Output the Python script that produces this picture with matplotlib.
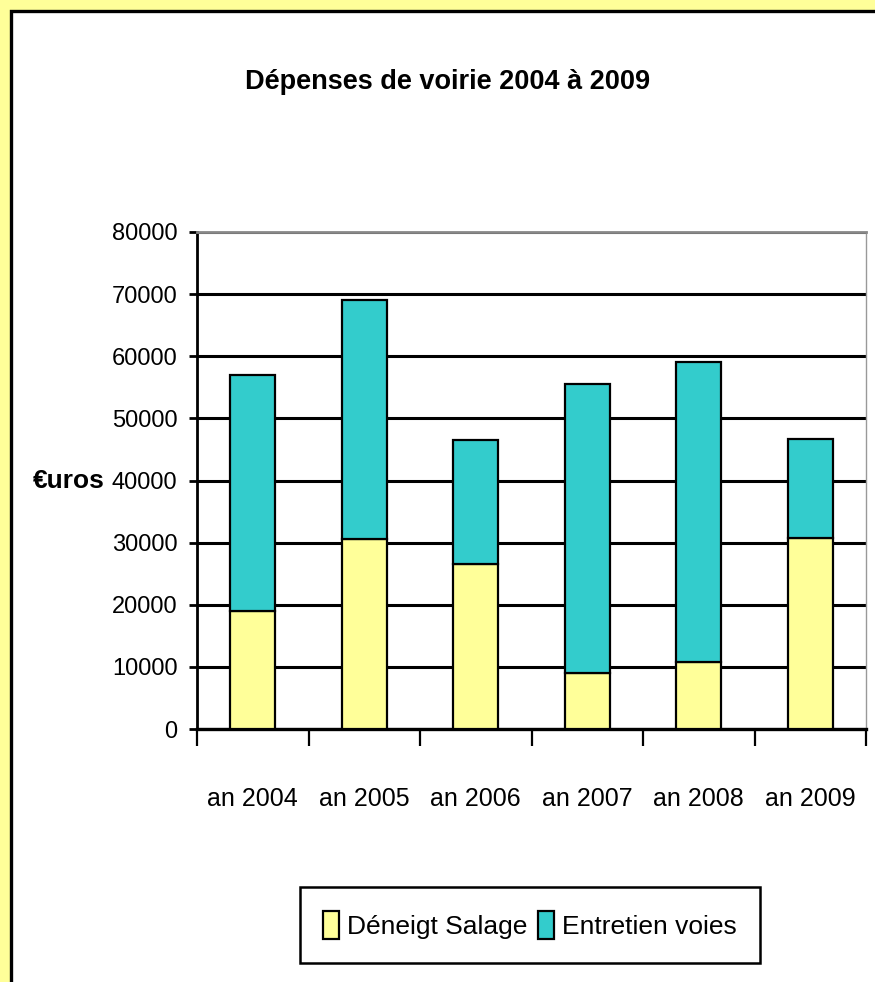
import matplotlib
matplotlib.use('Agg')
from matplotlib import pyplot as plt
from matplotlib.patches import Rectangle
import numpy as np

# Data
years = ['an 2004', 'an 2005', 'an 2006', 'an 2007', 'an 2008', 'an 2009']
deneigement = [19000, 30600, 26500, 9000, 10800, 30700]
entretien = [38000, 38400, 20000, 46500, 48200, 16000]

plt.rcParams['font.family'] = ['Liberation Sans', 'DejaVu Sans']

W, H = 875, 982
fig = plt.figure(figsize=(W / 100, H / 100), dpi=100)
fig.patch.set_facecolor('#FFFF99')

# White chart area with black frame (cut off on right and bottom)
frame = Rectangle((10.5 / W, -0.1), 1.2, 1 - 10.5 / H + 0.1, transform=fig.transFigure,
                  facecolor='white', edgecolor='black', linewidth=2.4, zorder=-5)
fig.patches.append(frame)

ax = fig.add_axes([197 / W, 1 - 729 / H, (866 - 197) / W, (729 - 232) / H])
ax.set_facecolor('white')

x = np.arange(len(years))
ax.bar(x, deneigement, width=0.4, color='#FFFF99', edgecolor='black', linewidth=1.6, zorder=3,
       label='Déneigt Salage')
ax.bar(x, entretien, width=0.4, bottom=deneigement, color='#33CCCC', edgecolor='black',
       linewidth=1.6, zorder=3, label='Entretien voies')

ax.set_xlim(-0.5, len(years) - 0.5)
ax.set_ylim(0, 80000)
ax.set_yticks(range(0, 80001, 10000))
ax.yaxis.grid(True, color='black', linewidth=2.2, zorder=1)
ax.set_axisbelow(True)

ax.set_xticks(x)
ax.set_xticklabels(years, fontsize=18)
ax.tick_params(axis='x', length=0, pad=42)
ax.set_xticks(np.arange(-0.5, len(years)), minor=True)
ax.tick_params(axis='x', which='minor', direction='out', length=12, width=1.6, color='black')
ax.tick_params(axis='y', direction='out', length=6, width=2, labelsize=17, pad=8)

ax.spines['left'].set_linewidth(2)
ax.spines['bottom'].set_linewidth(2.4)
ax.spines['top'].set_color('#888888')
ax.spines['top'].set_linewidth(2)
ax.spines['right'].set_color('#999999')
ax.spines['right'].set_linewidth(1)

ax.set_ylabel('€uros', fontsize=19, fontweight='bold', rotation=0, labelpad=0,
              ha='right', va='center')
ax.yaxis.set_label_coords(-0.138, 0.5)

fig.text(448 / W, 1 - 82 / H, 'Dépenses de voirie 2004 à 2009', fontsize=19.5, fontweight='bold',
         ha='center', va='center')

leg = fig.legend(loc='center', bbox_to_anchor=(530 / W, 1 - 925 / H), ncol=2, fontsize=19,
                 frameon=True, fancybox=False, edgecolor='black', framealpha=1,
                 handlelength=0.6, handleheight=1.3, handletextpad=0.3, columnspacing=0.4,
                 borderpad=0.9, borderaxespad=0)
leg.get_frame().set_linewidth(1.8)

fig.savefig('out.png', dpi=100, facecolor=fig.get_facecolor())
